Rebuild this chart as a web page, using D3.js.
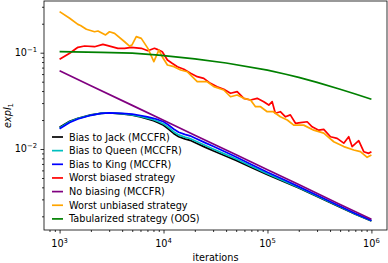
<!DOCTYPE html>
<html lang="en">
<head>
<meta charset="utf-8">
<title>expl1 vs iterations</title>
<script src="https://d3js.org/d3.v7.min.js"></script>
<style>
  body { margin: 0; background: #fff; }
  text { font-family: "DejaVu Sans", sans-serif; fill: #000; }
  .axis path, .axis line { stroke: #000; stroke-width: 0.8px; }
  .series { fill: none; stroke-width: 1.7px; stroke-linejoin: round; stroke-linecap: butt; }
</style>
</head>
<body>
<script>
// data
const biasIters = [1000,1250,1500,2000,2500,3000,4000,5000,6000,7000,8000,9000,10000,11000,12500,14000,16000,18000,20000,25000,30000,40000,50000,70000,100000,150000,200000,300000,500000,700000,1000000];
const biasJack  = [0.01681,0.01939,0.02089,0.02260,0.02349,0.02366,0.02315,0.02244,0.02150,0.02053,0.01963,0.01866,0.01762,0.01632,0.01450,0.01342,0.01273,0.01231,0.01168,0.01046,0.00958,0.00842,0.00762,0.00644,0.00541,0.00448,0.00393,0.00322,0.00249,0.00210,0.00179];
const biasQueen = [0.01657,0.01917,0.02073,0.02252,0.02349,0.02370,0.02329,0.02265,0.02181,0.02093,0.02011,0.01921,0.01822,0.01696,0.01513,0.01401,0.01329,0.01285,0.01220,0.01092,0.01000,0.00874,0.00788,0.00663,0.00554,0.00457,0.00398,0.00325,0.00251,0.00212,0.00180];
const biasKing  = [0.01622,0.01884,0.02049,0.02239,0.02349,0.02377,0.02349,0.02298,0.02228,0.02154,0.02084,0.02005,0.01916,0.01796,0.01614,0.01494,0.01418,0.01371,0.01301,0.01165,0.01067,0.00926,0.00828,0.00692,0.00574,0.00470,0.00407,0.00331,0.00255,0.00214,0.00181];

const worstBiasedIters = [1000,1250,1500,1740,2170,2610,2910,3640,4220,4890,6110,7070,8180,8690,9720,10900,12100,13600,15700,18200,21100,24400,28300,32800,38000,44100,51100,59200,68700,79600,92100,103000,111000,119000,133000,149000,166000,186000,208000,241000,269000,311000,348000,404000,468000,542000,605000,652000,755000,844000,942000,1000000];
const worstBiased = [0.0854,0.0986,0.1138,0.1174,0.1154,0.1222,0.1183,0.1111,0.1111,0.1138,0.1111,0.1049,0.1111,0.1084,0.1024,0.0840,0.0776,0.0716,0.0673,0.0611,0.0564,0.0542,0.0481,0.0444,0.0417,0.0379,0.0394,0.0336,0.0323,0.0336,0.0310,0.0286,0.0310,0.0235,0.0244,0.0216,0.0226,0.0185,0.0188,0.0192,0.0170,0.0157,0.0160,0.0134,0.0129,0.0115,0.0134,0.0106,0.0122,0.00938,0.00902,0.00938];

const noBiasIters = [1000,2000,5000,10000,20000,50000,100000,200000,500000,1000000];
const noBias = [0.065,0.0455,0.0284,0.0199,0.0139,0.00871,0.00609,0.00427,0.00266,0.00186];

const worstUnbiasedIters = [1000,1250,1500,1590,1810,2170,2340,2770,3020,3380,4220,4710,4960,5470,6110,7070,8070,9020,9720,10900,12600,14600,16900,21100,26300,30500,38000,44100,51100,59200,68700,76700,85800,99400,114000,133000,155000,179000,223000,279000,348000,434000,542000,676000,784000,910000,1000000];
const worstUnbiased = [0.267,0.228,0.197,0.192,0.175,0.165,0.168,0.153,0.165,0.159,0.130,0.117,0.120,0.147,0.141,0.111,0.0807,0.1066,0.0909,0.0745,0.0716,0.0661,0.0635,0.0500,0.0500,0.0444,0.0410,0.0349,0.0364,0.0336,0.0323,0.0275,0.0275,0.0244,0.0244,0.0216,0.0200,0.0177,0.0177,0.0157,0.0146,0.0119,0.0106,0.00977,0.00938,0.00820,0.00867];

const tabIters = [1000,2500,5000,9000,20000,40000,100000,150000,200000,300000,500000,700000,1000000];
const tabular = [0.1024,0.1010,0.0988,0.0944,0.0862,0.0782,0.0660,0.0597,0.0554,0.0492,0.0418,0.0373,0.0329];

const xMajor = [1e3, 1e4, 1e5, 1e6];
const xMajorExp = ["3", "4", "5", "6"];
const yMajor = [1e-1, 1e-2];
const yMajorExp = ["\u22121", "\u22122"];

const seriesList = [
  {name: "Bias to Jack (MCCFR)", color: "#000000", x: biasIters, y: biasJack},
  {name: "Bias to Queen (MCCFR)", color: "#00bfbf", x: biasIters, y: biasQueen},
  {name: "Bias to King (MCCFR)", color: "#0000ff", x: biasIters, y: biasKing},
  {name: "Worst biased strategy", color: "#ff0000", x: worstBiasedIters, y: worstBiased},
  {name: "No biasing (MCCFR)", color: "#800080", x: noBiasIters, y: noBias},
  {name: "Worst unbiased strategy", color: "#ffa500", x: worstUnbiasedIters, y: worstUnbiased},
  {name: "Tabularized strategy (OOS)", color: "#008000", x: tabIters, y: tabular}
];

const w = 388, h = 263;
const plotLeft = 44, plotRight = 387, plotTop = 1, plotBottom = 230;

const xScale = d3.scaleLog().domain([Math.pow(10, 2.85), Math.pow(10, 6.15)]).range([plotLeft, plotRight]);
const yScale = d3.scaleLog().domain([Math.pow(10, -2.841), Math.pow(10, -0.463)]).range([plotBottom, plotTop]);

const svg = d3.select("body").append("svg")
  .attr("width", w).attr("height", h);

// minor ticks 2..9 x 10^k inside the domain
function minors(scale) {
  const [a, b] = scale.domain();
  const out = [];
  for (let e = Math.floor(Math.log10(a)); e <= Math.ceil(Math.log10(b)); e++) {
    for (let m = 2; m <= 9; m++) {
      const v = m * Math.pow(10, e);
      if (v >= a && v <= b) out.push(v);
    }
  }
  return out;
}

// axes
svg.append("g").attr("class", "axis")
  .attr("transform", "translate(0," + plotBottom + ")")
  .call(d3.axisBottom(xScale).tickValues(xMajor).tickSize(3.5).tickFormat(""));
svg.append("g").attr("class", "axis")
  .attr("transform", "translate(0," + plotBottom + ")")
  .call(d3.axisBottom(xScale).tickValues(minors(xScale)).tickSize(2).tickFormat(""));
svg.append("g").attr("class", "axis")
  .attr("transform", "translate(" + plotLeft + ",0)")
  .call(d3.axisLeft(yScale).tickValues(yMajor).tickSize(3.5).tickFormat(""));
svg.append("g").attr("class", "axis")
  .attr("transform", "translate(" + plotLeft + ",0)")
  .call(d3.axisLeft(yScale).tickValues(minors(yScale)).tickSize(2).tickFormat(""));
svg.selectAll(".axis path.domain").remove();

// tick labels with superscripts
xMajor.forEach((v, i) => {
  const t = svg.append("text")
    .attr("x", xScale(v)).attr("y", 247)
    .attr("text-anchor", "middle")
    .style("font-size", "9.7px");
  t.append("tspan").text("10");
  t.append("tspan").attr("dy", -4).style("font-size", "6.8px").text(xMajorExp[i]);
});
yMajor.forEach((v, i) => {
  const t = svg.append("text")
    .attr("x", 37).attr("y", yScale(v) + 3.3)
    .attr("text-anchor", "end")
    .style("font-size", "9.7px");
  t.append("tspan").text("10");
  t.append("tspan").attr("dy", -4).style("font-size", "6.8px").text(yMajorExp[i]);
});

// lines
svg.append("clipPath").attr("id", "plot")
  .append("rect").attr("x", plotLeft).attr("y", plotTop)
  .attr("width", plotRight - plotLeft).attr("height", plotBottom - plotTop);

const line = d3.line()
  .x(d => xScale(d[0]))
  .y(d => yScale(d[1]));

seriesList.forEach(s => {
  svg.append("path")
    .datum(s.x.map((xv, i) => [xv, s.y[i]]))
    .attr("class", "series")
    .attr("clip-path", "url(#plot)")
    .attr("stroke", s.color)
    .attr("d", line);
});

// frame
svg.append("rect")
  .attr("x", plotLeft).attr("y", plotTop)
  .attr("width", plotRight - plotLeft).attr("height", plotBottom - plotTop)
  .attr("fill", "none").attr("stroke", "#000").attr("stroke-width", 0.8);

// legend
const leg = svg.append("g");
seriesList.forEach((s, i) => {
  const cy = 137 + i * 13.65;
  leg.append("line")
    .attr("x1", 52).attr("x2", 63).attr("y1", cy).attr("y2", cy)
    .attr("stroke", s.color).attr("stroke-width", 1.7);
  leg.append("text")
    .attr("x", 69).attr("y", cy + 3.5)
    .style("font-size", "9.7px")
    .text(s.name);
});

// axis titles
svg.append("text")
  .attr("x", (plotLeft + plotRight) / 2).attr("y", 261)
  .attr("text-anchor", "middle")
  .style("font-size", "9.7px")
  .text("iterations");

const yl = svg.append("text")
  .attr("transform", "translate(10.5," + ((plotTop + plotBottom) / 2) + ") rotate(-90)")
  .attr("text-anchor", "middle")
  .style("font-size", "9.7px")
  .style("font-style", "italic");
yl.append("tspan").text("expl");
yl.append("tspan").attr("dy", 2.5).style("font-size", "6.8px").style("font-style", "normal").text("1");
</script>
</body>
</html>
